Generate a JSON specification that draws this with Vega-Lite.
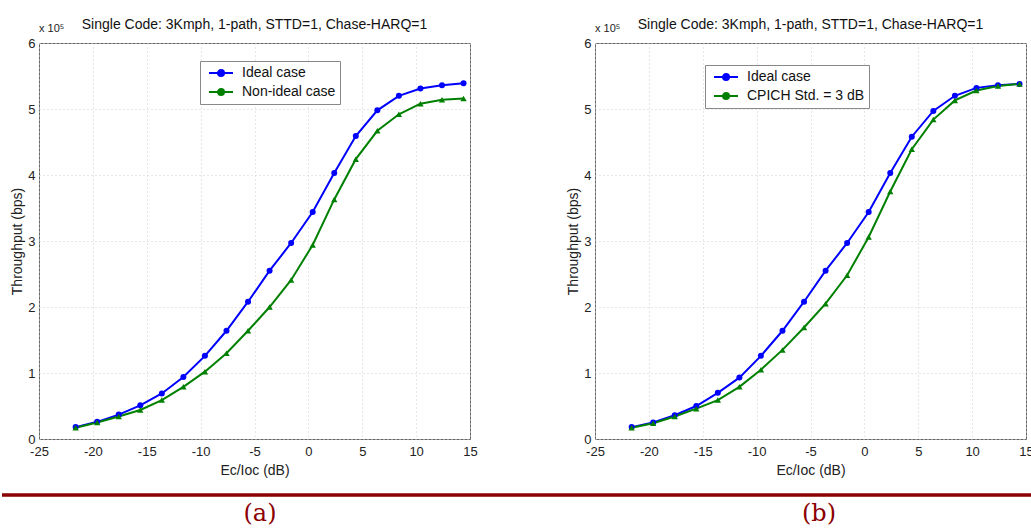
{
  "$schema": "https://vega.github.io/schema/vega-lite/v6.json",
  "background": "white",
  "padding": {"left": 0, "top": 17, "right": 0, "bottom": 0},
  "config": {
    "font": "Liberation Sans",
    "view": {"stroke": "#666666", "strokeWidth": 1},
    "axis": {
      "domain": false, "ticks": false, "grid": true, "gridColor": "#cfcfcf", "gridDash": [1, 3],
      "labelFont": "Liberation Sans", "labelFontSize": 13, "labelColor": "#222222", "labelFlush": false,
      "titleFont": "Liberation Sans", "titleFontSize": 14, "titleFontWeight": "normal", "titleColor": "#222222"
    },
    "axisX": {"labelPadding": 6, "titlePadding": 5},
    "axisY": {"labelPadding": 4, "titlePadding": 3, "titleLineHeight": 9},
    "legend": {
      "orient": "none", "title": null, "labelFont": "Liberation Sans", "labelFontSize": 14, "labelColor": "#111111",
      "symbolSize": 196, "symbolStrokeWidth": 2, "labelOffset": 22, "padding": 4, "rowPadding": 3,
      "strokeColor": "#888888", "fillColor": "white",
      "symbolType": "M-0.43,0H3M0.86,0A0.43,0.43,0,1,0,1.72,0A0.43,0.43,0,1,0,0.86,0"
    }
  },
  "datasets": {
    "a": [
      {"ec_ioc_db": -21.6, "throughput": 0.18, "series": "Ideal case"},
      {"ec_ioc_db": -19.6, "throughput": 0.26, "series": "Ideal case"},
      {"ec_ioc_db": -17.6, "throughput": 0.37, "series": "Ideal case"},
      {"ec_ioc_db": -15.6, "throughput": 0.51, "series": "Ideal case"},
      {"ec_ioc_db": -13.6, "throughput": 0.69, "series": "Ideal case"},
      {"ec_ioc_db": -11.6, "throughput": 0.94, "series": "Ideal case"},
      {"ec_ioc_db": -9.6, "throughput": 1.26, "series": "Ideal case"},
      {"ec_ioc_db": -7.6, "throughput": 1.64, "series": "Ideal case"},
      {"ec_ioc_db": -5.6, "throughput": 2.08, "series": "Ideal case"},
      {"ec_ioc_db": -3.6, "throughput": 2.55, "series": "Ideal case"},
      {"ec_ioc_db": -1.6, "throughput": 2.97, "series": "Ideal case"},
      {"ec_ioc_db": 0.4, "throughput": 3.44, "series": "Ideal case"},
      {"ec_ioc_db": 2.4, "throughput": 4.03, "series": "Ideal case"},
      {"ec_ioc_db": 4.4, "throughput": 4.59, "series": "Ideal case"},
      {"ec_ioc_db": 6.4, "throughput": 4.98, "series": "Ideal case"},
      {"ec_ioc_db": 8.4, "throughput": 5.2, "series": "Ideal case"},
      {"ec_ioc_db": 10.4, "throughput": 5.31, "series": "Ideal case"},
      {"ec_ioc_db": 12.4, "throughput": 5.36, "series": "Ideal case"},
      {"ec_ioc_db": 14.4, "throughput": 5.39, "series": "Ideal case"},
      {"ec_ioc_db": -21.6, "throughput": 0.17, "series": "Non-ideal case"},
      {"ec_ioc_db": -19.6, "throughput": 0.25, "series": "Non-ideal case"},
      {"ec_ioc_db": -17.6, "throughput": 0.34, "series": "Non-ideal case"},
      {"ec_ioc_db": -15.6, "throughput": 0.44, "series": "Non-ideal case"},
      {"ec_ioc_db": -13.6, "throughput": 0.59, "series": "Non-ideal case"},
      {"ec_ioc_db": -11.6, "throughput": 0.79, "series": "Non-ideal case"},
      {"ec_ioc_db": -9.6, "throughput": 1.02, "series": "Non-ideal case"},
      {"ec_ioc_db": -7.6, "throughput": 1.3, "series": "Non-ideal case"},
      {"ec_ioc_db": -5.6, "throughput": 1.64, "series": "Non-ideal case"},
      {"ec_ioc_db": -3.6, "throughput": 2.0, "series": "Non-ideal case"},
      {"ec_ioc_db": -1.6, "throughput": 2.41, "series": "Non-ideal case"},
      {"ec_ioc_db": 0.4, "throughput": 2.94, "series": "Non-ideal case"},
      {"ec_ioc_db": 2.4, "throughput": 3.63, "series": "Non-ideal case"},
      {"ec_ioc_db": 4.4, "throughput": 4.24, "series": "Non-ideal case"},
      {"ec_ioc_db": 6.4, "throughput": 4.67, "series": "Non-ideal case"},
      {"ec_ioc_db": 8.4, "throughput": 4.92, "series": "Non-ideal case"},
      {"ec_ioc_db": 10.4, "throughput": 5.08, "series": "Non-ideal case"},
      {"ec_ioc_db": 12.4, "throughput": 5.14, "series": "Non-ideal case"},
      {"ec_ioc_db": 14.4, "throughput": 5.16, "series": "Non-ideal case"}
    ],
    "b": [
      {"ec_ioc_db": -21.6, "throughput": 0.18, "series": "Ideal case"},
      {"ec_ioc_db": -19.6, "throughput": 0.25, "series": "Ideal case"},
      {"ec_ioc_db": -17.6, "throughput": 0.36, "series": "Ideal case"},
      {"ec_ioc_db": -15.6, "throughput": 0.5, "series": "Ideal case"},
      {"ec_ioc_db": -13.6, "throughput": 0.7, "series": "Ideal case"},
      {"ec_ioc_db": -11.6, "throughput": 0.93, "series": "Ideal case"},
      {"ec_ioc_db": -9.6, "throughput": 1.26, "series": "Ideal case"},
      {"ec_ioc_db": -7.6, "throughput": 1.64, "series": "Ideal case"},
      {"ec_ioc_db": -5.6, "throughput": 2.08, "series": "Ideal case"},
      {"ec_ioc_db": -3.6, "throughput": 2.55, "series": "Ideal case"},
      {"ec_ioc_db": -1.6, "throughput": 2.97, "series": "Ideal case"},
      {"ec_ioc_db": 0.4, "throughput": 3.44, "series": "Ideal case"},
      {"ec_ioc_db": 2.4, "throughput": 4.03, "series": "Ideal case"},
      {"ec_ioc_db": 4.4, "throughput": 4.58, "series": "Ideal case"},
      {"ec_ioc_db": 6.4, "throughput": 4.97, "series": "Ideal case"},
      {"ec_ioc_db": 8.4, "throughput": 5.2, "series": "Ideal case"},
      {"ec_ioc_db": 10.4, "throughput": 5.32, "series": "Ideal case"},
      {"ec_ioc_db": 12.4, "throughput": 5.36, "series": "Ideal case"},
      {"ec_ioc_db": 14.4, "throughput": 5.38, "series": "Ideal case"},
      {"ec_ioc_db": -21.6, "throughput": 0.17, "series": "CPICH Std. = 3 dB"},
      {"ec_ioc_db": -19.6, "throughput": 0.24, "series": "CPICH Std. = 3 dB"},
      {"ec_ioc_db": -17.6, "throughput": 0.34, "series": "CPICH Std. = 3 dB"},
      {"ec_ioc_db": -15.6, "throughput": 0.46, "series": "CPICH Std. = 3 dB"},
      {"ec_ioc_db": -13.6, "throughput": 0.59, "series": "CPICH Std. = 3 dB"},
      {"ec_ioc_db": -11.6, "throughput": 0.79, "series": "CPICH Std. = 3 dB"},
      {"ec_ioc_db": -9.6, "throughput": 1.05, "series": "CPICH Std. = 3 dB"},
      {"ec_ioc_db": -7.6, "throughput": 1.35, "series": "CPICH Std. = 3 dB"},
      {"ec_ioc_db": -5.6, "throughput": 1.69, "series": "CPICH Std. = 3 dB"},
      {"ec_ioc_db": -3.6, "throughput": 2.05, "series": "CPICH Std. = 3 dB"},
      {"ec_ioc_db": -1.6, "throughput": 2.48, "series": "CPICH Std. = 3 dB"},
      {"ec_ioc_db": 0.4, "throughput": 3.06, "series": "CPICH Std. = 3 dB"},
      {"ec_ioc_db": 2.4, "throughput": 3.75, "series": "CPICH Std. = 3 dB"},
      {"ec_ioc_db": 4.4, "throughput": 4.39, "series": "CPICH Std. = 3 dB"},
      {"ec_ioc_db": 6.4, "throughput": 4.84, "series": "CPICH Std. = 3 dB"},
      {"ec_ioc_db": 8.4, "throughput": 5.13, "series": "CPICH Std. = 3 dB"},
      {"ec_ioc_db": 10.4, "throughput": 5.28, "series": "CPICH Std. = 3 dB"},
      {"ec_ioc_db": 12.4, "throughput": 5.35, "series": "CPICH Std. = 3 dB"},
      {"ec_ioc_db": 14.4, "throughput": 5.38, "series": "CPICH Std. = 3 dB"}
    ],
    "note": [{"txt": "x 10\u2075"}],
    "captions": [{"caption": "(a)"}, {"caption": "(b)"}]
  },
  "spacing": 15,
  "vconcat": [
    {
      "hconcat": [
        {
          "width": 431, "height": 396,
          "title": {"text": "Single Code: 3Kmph, 1-path, STTD=1, Chase-HARQ=1", "fontSize": 14, "fontWeight": "normal", "font": "Liberation Sans", "color": "#111111", "offset": -9},
          "layer": [
            {
              "data": {"name": "a"},
              "mark": {"type": "line", "strokeWidth": 2},
              "encoding": {
                "x": {"field": "ec_ioc_db", "type": "quantitative", "scale": {"domain": [-25, 15], "nice": false, "zero": false},
                      "axis": {"title": "Ec/Ioc (dB)", "values": [-25, -20, -15, -10, -5, 0, 5, 10, 15], "labelExpr": "replace(datum.label, '\u2212', '-')"}},
                "y": {"field": "throughput", "type": "quantitative", "scale": {"domain": [0, 6], "nice": false},
                      "axis": {"title": ["", "Throughput (bps)"], "values": [0, 1, 2, 3, 4, 5, 6], "format": "d"}},
                "color": {"field": "series", "type": "nominal",
                  "scale": {"domain": ["Ideal case", "Non-ideal case"], "range": ["#0000ff", "#008000"]},
                  "legend": {"legendX": 161, "legendY": 18,
                    "encode": {"symbols": {"update": {"fill": {"signal": "datum.value === 'Ideal case' ? '#0000ff' : '#008000'"}}}}}}
              }
            },
            {
              "data": {"name": "a"},
              "transform": [{"filter": "datum.series === 'Ideal case'"}],
              "mark": {"type": "point", "shape": "circle", "filled": true, "size": 36, "opacity": 1, "color": "#0000ff"},
              "encoding": {
                "x": {"field": "ec_ioc_db", "type": "quantitative"},
                "y": {"field": "throughput", "type": "quantitative"}
              }
            },
            {
              "data": {"name": "a"},
              "transform": [{"filter": "datum.series !== 'Ideal case'"}],
              "mark": {"type": "point", "shape": "triangle-up", "filled": true, "size": 40, "opacity": 1, "color": "#008000"},
              "encoding": {
                "x": {"field": "ec_ioc_db", "type": "quantitative"},
                "y": {"field": "throughput", "type": "quantitative"}
              }
            },
            {
              "data": {"name": "note"},
              "mark": {"type": "text", "align": "left", "baseline": "bottom", "fontSize": 11, "dy": -9, "color": "#222222"},
              "encoding": {"x": {"datum": -25, "type": "quantitative"}, "y": {"datum": 6, "type": "quantitative"}, "text": {"field": "txt", "type": "nominal"}}
            }
          ]
        },
        {
          "width": 431, "height": 396,
          "title": {"text": "Single Code: 3Kmph, 1-path, STTD=1, Chase-HARQ=1", "fontSize": 14, "fontWeight": "normal", "font": "Liberation Sans", "color": "#111111", "offset": -9},
          "layer": [
            {
              "data": {"name": "b"},
              "mark": {"type": "line", "strokeWidth": 2},
              "encoding": {
                "x": {"field": "ec_ioc_db", "type": "quantitative", "scale": {"domain": [-25, 15], "nice": false, "zero": false},
                      "axis": {"title": "Ec/Ioc (dB)", "values": [-25, -20, -15, -10, -5, 0, 5, 10, 15], "labelExpr": "replace(datum.label, '\u2212', '-')"}},
                "y": {"field": "throughput", "type": "quantitative", "scale": {"domain": [0, 6], "nice": false},
                      "axis": {"title": ["", "Throughput (bps)"], "values": [0, 1, 2, 3, 4, 5, 6], "format": "d"}},
                "color": {"field": "series", "type": "nominal",
                  "scale": {"domain": ["Ideal case", "CPICH Std. = 3 dB"], "range": ["#0000ff", "#008000"]},
                  "legend": {"legendX": 110, "legendY": 22,
                    "encode": {"symbols": {"update": {"fill": {"signal": "datum.value === 'Ideal case' ? '#0000ff' : '#008000'"}}}}}}
              }
            },
            {
              "data": {"name": "b"},
              "transform": [{"filter": "datum.series === 'Ideal case'"}],
              "mark": {"type": "point", "shape": "circle", "filled": true, "size": 36, "opacity": 1, "color": "#0000ff"},
              "encoding": {
                "x": {"field": "ec_ioc_db", "type": "quantitative"},
                "y": {"field": "throughput", "type": "quantitative"}
              }
            },
            {
              "data": {"name": "b"},
              "transform": [{"filter": "datum.series !== 'Ideal case'"}],
              "mark": {"type": "point", "shape": "triangle-up", "filled": true, "size": 40, "opacity": 1, "color": "#008000"},
              "encoding": {
                "x": {"field": "ec_ioc_db", "type": "quantitative"},
                "y": {"field": "throughput", "type": "quantitative"}
              }
            },
            {
              "data": {"name": "note"},
              "mark": {"type": "text", "align": "left", "baseline": "bottom", "fontSize": 11, "dy": -9, "color": "#222222"},
              "encoding": {"x": {"datum": -25, "type": "quantitative"}, "y": {"datum": 6, "type": "quantitative"}, "text": {"field": "txt", "type": "nominal"}}
            }
          ]
        }
      ],
      "spacing": 125,
      "bounds": "flush",
      "resolve": {"scale": {"color": "independent", "x": "independent", "y": "independent"}, "legend": {"color": "independent"}}
    },
    {
      "width": 994, "height": 33,
      "view": {"stroke": null},
      "data": {"name": "captions"},
      "layer": [
        {
          "mark": {"type": "rule", "color": "#8b0000", "strokeWidth": 3},
          "encoding": {
            "x": {"datum": 0, "type": "quantitative", "scale": {"domain": [0, 1], "range": [-37, 994]}, "axis": null},
            "x2": {"datum": 1},
            "y": {"datum": 1, "type": "quantitative", "scale": {"domain": [0, 1]}, "axis": null}
          }
        },
        {
          "mark": {"type": "text", "font": "DejaVu Serif", "fontSize": 24, "color": "#8b0000", "baseline": "middle"},
          "encoding": {
            "x": {"field": "caption", "type": "nominal", "scale": {"type": "point", "padding": 0, "range": [221, 780]}, "axis": null},
            "y": {"datum": 0.42, "type": "quantitative"},
            "text": {"field": "caption"}
          }
        }
      ],
      "resolve": {"scale": {"x": "independent"}}
    }
  ]
}
